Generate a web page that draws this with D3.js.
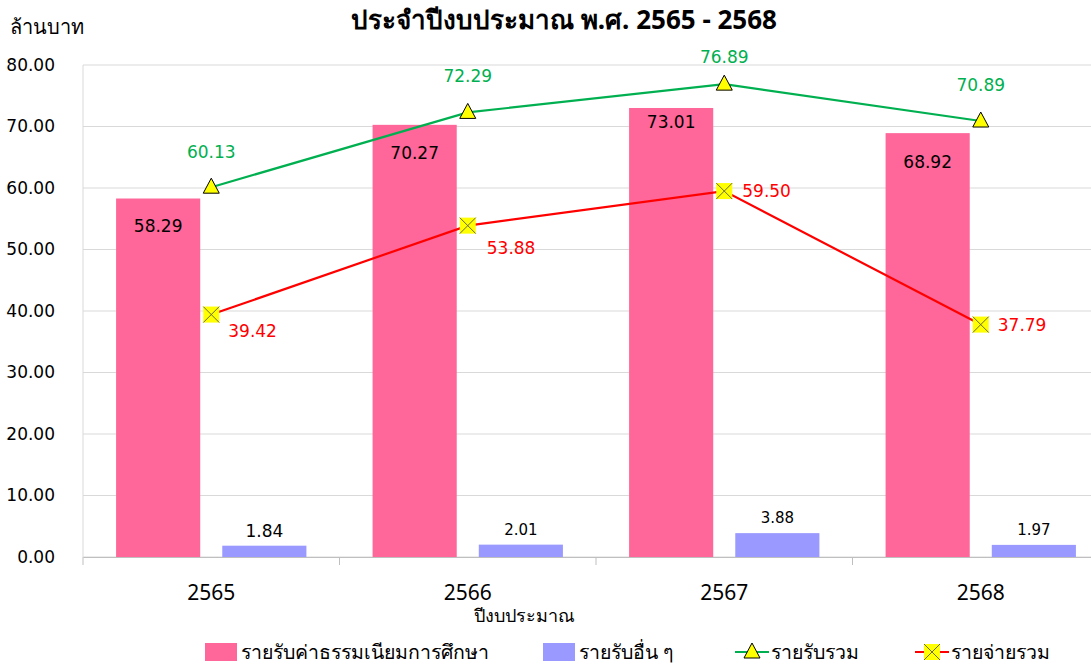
<!DOCTYPE html>
<html>
<head>
<meta charset="utf-8">
<script src="https://cdn.jsdelivr.net/npm/d3@7"></script>
<style>
  body { margin: 0; background: #fff; }
  text { font-family: "Noto Sans", sans-serif; }
</style>
</head>
<body>
<script>
// Data
const years = ["2565", "2566", "2567", "2568"];
const tuition = [58.29, 70.27, 73.01, 68.92];
const otherIncome = [1.84, 2.01, 3.88, 1.97];
const totalIncome = [60.13, 72.29, 76.89, 70.89];
const totalExpense = [39.42, 53.88, 59.50, 37.79];
const yTicks = [0, 10, 20, 30, 40, 50, 60, 70, 80];
const legendNames = ["รายรับค่าธรรมเนียมการศึกษา", "รายรับอื่น ๆ", "รายรับรวม", "รายจ่ายรวม"];

// label nudges (px below bar top) for tuition labels, as placed in the source
const tuitionLabelDy = [28, 28, 14, 29];

let width = 1091, height = 665;
let margin = { top: 65, bottom: 108, left: 83, right: -18 };

let svg = d3.select('body')
  .append('svg')
    .attr('width', width)
    .attr('height', height);

let yScale = d3.scaleLinear()
  .domain([0, 80])
  .range([height - margin.bottom, margin.top]);

let xScale = d3.scaleBand()
  .domain(years)
  .range([margin.left, width - margin.right]);

let bw = xScale.bandwidth();
let pad = bw * 0.129, barW = bw * 0.328, gap = bw * 0.086;

// Gridlines
svg.append('g')
  .selectAll('line')
  .data(yTicks)
  .enter()
  .append('line')
    .attr('x1', margin.left)
    .attr('x2', width - margin.right)
    .attr('y1', d => yScale(d))
    .attr('y2', d => yScale(d))
    .attr('stroke', '#d9d9d9')
    .attr('stroke-width', 1);

svg.append('line')
  .attr('x1', margin.left).attr('x2', margin.left)
  .attr('y1', yScale(80)).attr('y2', yScale(0))
  .attr('stroke', '#d9d9d9');

// Y axis labels
svg.append('g')
  .selectAll('text')
  .data(yTicks)
  .enter()
  .append('text')
    .attr('x', 55)
    .attr('y', d => yScale(d))
    .attr('dy', '0.35em')
    .attr('text-anchor', 'end')
    .style('font-family', '"DejaVu Sans", sans-serif')
    .style('font-size', '17px')
    .attr('fill', '#000')
    .text(d => d.toFixed(2));

svg.append('text')
  .attr('x', 10).attr('y', 34)
  .style('font-size', '20px')
  .text('ล้านบาท');

// Title
svg.append('text')
  .attr('x', 564).attr('y', 29)
  .attr('text-anchor', 'middle')
  .style('font-size', '26px')
  .style('font-weight', 'bold')
  .text('ประจำปีงบประมาณ พ.ศ. 2565 - 2568');

// Bars
svg.append('g')
  .selectAll('rect')
  .data(tuition)
  .enter()
  .append('rect')
    .attr('x', (d, i) => xScale(years[i]) + pad)
    .attr('y', d => yScale(d))
    .attr('width', barW)
    .attr('height', d => yScale(0) - yScale(d))
    .attr('fill', '#ff6699');

svg.append('g')
  .selectAll('rect')
  .data(otherIncome)
  .enter()
  .append('rect')
    .attr('x', (d, i) => xScale(years[i]) + pad + barW + gap)
    .attr('y', d => yScale(d))
    .attr('width', barW)
    .attr('height', d => yScale(0) - yScale(d))
    .attr('fill', '#9999ff');

// X axis
let xAxis = svg.append('g')
  .attr('transform', `translate(0,${yScale(0)})`)
  .call(d3.axisBottom(xScale).tickSize(0).tickPadding(28));
xAxis.select('.domain').attr('stroke', '#bfbfbf');
xAxis.selectAll('text')
  .style('font-family', '"Noto Sans", sans-serif')
  .style('font-size', '21px')
  .attr('fill', '#000');

svg.append('g')
  .selectAll('line')
  .data(years)
  .enter()
  .append('line')
    .attr('x1', d => xScale(d)).attr('x2', d => xScale(d))
    .attr('y1', yScale(0)).attr('y2', yScale(0) + 8)
    .attr('stroke', '#bfbfbf');

svg.append('text')
  .attr('x', 524).attr('y', 622)
  .attr('text-anchor', 'middle')
  .style('font-size', '18px')
  .text('ปีงบประมาณ');

// Lines
let cx = (d, i) => xScale(years[i]) + bw / 2;
let line = d3.line().x(cx).y(d => yScale(d));

svg.append('path')
  .datum(totalIncome)
  .attr('d', line)
  .attr('fill', 'none')
  .attr('stroke', '#00b050')
  .attr('stroke-width', 2.2);

svg.append('path')
  .datum(totalExpense)
  .attr('d', line)
  .attr('fill', 'none')
  .attr('stroke', '#ff0000')
  .attr('stroke-width', 2.2);

// markers
function triangle(g, x, y) {
  g.append('path')
    .attr('d', `M${x},${y - 9} L${x + 8},${y + 6} L${x - 8},${y + 6} Z`)
    .attr('fill', '#ffff00')
    .attr('stroke', '#000')
    .attr('stroke-width', 1);
}
function xbox(g, x, y) {
  g.append('rect')
    .attr('x', x - 8).attr('y', y - 8)
    .attr('width', 16).attr('height', 16)
    .attr('fill', '#ffff00');
  g.append('path')
    .attr('d', `M${x - 8},${y - 8} L${x + 8},${y + 8} M${x + 8},${y - 8} L${x - 8},${y + 8}`)
    .attr('stroke', '#6b6b3a')
    .attr('stroke-width', 1);
}

let mk = svg.append('g');
totalIncome.forEach((d, i) => triangle(mk, cx(d, i), yScale(d)));
totalExpense.forEach((d, i) => xbox(mk, cx(d, i), yScale(d)));

// Data labels
let labelFont = '"DejaVu Sans", sans-serif';

svg.append('g')
  .selectAll('text')
  .data(tuition)
  .enter()
  .append('text')
    .attr('x', (d, i) => xScale(years[i]) + pad + barW / 2)
    .attr('y', (d, i) => yScale(d) + tuitionLabelDy[i])
    .attr('dy', '0.35em')
    .attr('text-anchor', 'middle')
    .style('font-family', labelFont)
    .style('font-size', '17px')
    .text(d => d.toFixed(2));

svg.append('g')
  .selectAll('text')
  .data(otherIncome)
  .enter()
  .append('text')
    .attr('x', (d, i) => xScale(years[i]) + pad + barW * 1.5 + gap)
    .attr('y', d => yScale(d) - 15)
    .attr('dy', '0.35em')
    .attr('text-anchor', 'middle')
    .style('font-family', labelFont)
    .style('font-size', (d, i) => i == 0 ? '17px' : '15px')
    .text(d => d.toFixed(2));

const incomeLabelDy = [-35, -36, -27, -36];
svg.append('g')
  .selectAll('text')
  .data(totalIncome)
  .enter()
  .append('text')
    .attr('x', cx)
    .attr('y', (d, i) => yScale(d) + incomeLabelDy[i])
    .attr('dy', '0.35em')
    .attr('text-anchor', 'middle')
    .style('font-family', labelFont)
    .style('font-size', '17px')
    .attr('fill', '#00b050')
    .text(d => d.toFixed(2));

const expenseLabelDx = [17, 19, 18, 17];
const expenseLabelDy = [16, 22, 0, 0];
svg.append('g')
  .selectAll('text')
  .data(totalExpense)
  .enter()
  .append('text')
    .attr('x', (d, i) => cx(d, i) + expenseLabelDx[i])
    .attr('y', (d, i) => yScale(d) + expenseLabelDy[i])
    .attr('dy', '0.35em')
    .style('font-family', labelFont)
    .style('font-size', '17px')
    .attr('fill', '#ff0000')
    .text(d => d.toFixed(2));

// Legend
const legendX = [205, 543, 735, 915];
let lg = svg.append('g');
legendNames.forEach((name, i) => {
  let x = legendX[i], y = 652;
  if (i < 2) {
    lg.append('rect')
      .attr('x', x).attr('y', y - 9)
      .attr('width', 32).attr('height', 18)
      .attr('fill', i == 0 ? '#ff6699' : '#9999ff');
  } else {
    lg.append('line')
      .attr('x1', x).attr('x2', x + 34)
      .attr('y1', y).attr('y2', y)
      .attr('stroke', i == 2 ? '#00b050' : '#ff0000')
      .attr('stroke-width', 2.2);
    if (i == 2) triangle(lg, x + 17, y);
    else xbox(lg, x + 17, y);
  }
  lg.append('text')
    .attr('x', x + 36).attr('y', y)
    .attr('dy', '0.35em')
    .style('font-size', '19.5px')
    .text(name);
});
</script>
</body>
</html>
